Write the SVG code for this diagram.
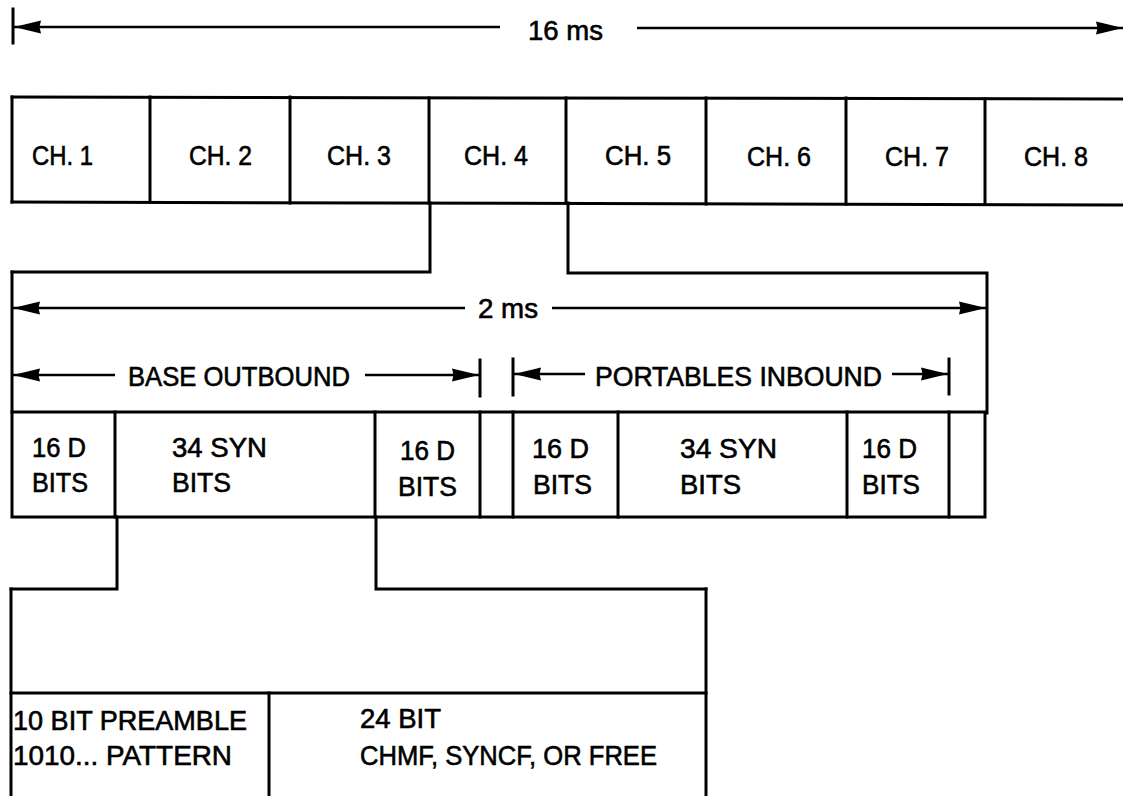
<svg xmlns="http://www.w3.org/2000/svg" width="1123" height="796" viewBox="0 0 1123 796">
<style>
  .ln{stroke:#000;stroke-width:3;fill:none;stroke-linecap:square}
  .ar{stroke:#000;stroke-width:2.5;fill:none}
  .t{font-family:"Liberation Sans",Arial,Helvetica,sans-serif;font-size:27px;fill:#000;stroke:#000;stroke-width:0.6}
</style>
<defs>
  <marker id="ah" viewBox="0 0 27 14" refX="27" refY="7" markerWidth="27" markerHeight="14" markerUnits="userSpaceOnUse" orient="auto-start-reverse">
    <path d="M0,0.5 L27,7 L0,13.5 L1.5,7 z" fill="#000"/>
  </marker>
</defs>
<rect width="1123" height="796" fill="#fff"/>

<g id="dim-16ms">
  <line class="ln" x1="13" y1="9" x2="13" y2="43"/>
  <line class="ar" x1="500" y1="27" x2="14" y2="27" marker-end="url(#ah)"/>
  <line class="ar" x1="637" y1="28" x2="1123" y2="28" marker-end="url(#ah)"/>
  <text class="t" x="528" y="40" textLength="75" lengthAdjust="spacingAndGlyphs">16 ms</text>
</g>

<g id="channel-frame">
  <line class="ln" x1="12" y1="97" x2="1123" y2="99"/>
  <line class="ln" x1="12" y1="202" x2="1123" y2="205"/>
  <line class="ln" x1="12" y1="97" x2="12" y2="202"/>
</g>
<g id="ch1"><text class="t" x="32" y="165" textLength="61" lengthAdjust="spacingAndGlyphs">CH. 1</text></g>
<g id="ch2"><line class="ln" x1="150" y1="97" x2="150" y2="202"/><text class="t" x="189" y="165" textLength="63" lengthAdjust="spacingAndGlyphs">CH. 2</text></g>
<g id="ch3"><line class="ln" x1="290" y1="97" x2="290" y2="203"/><text class="t" x="327" y="165" textLength="64" lengthAdjust="spacingAndGlyphs">CH. 3</text></g>
<g id="ch4"><line class="ln" x1="429" y1="98" x2="429" y2="203"/><text class="t" x="464" y="165" textLength="64" lengthAdjust="spacingAndGlyphs">CH. 4</text></g>
<g id="ch5"><line class="ln" x1="566" y1="98" x2="566" y2="203"/><text class="t" x="605" y="165" textLength="66" lengthAdjust="spacingAndGlyphs">CH. 5</text></g>
<g id="ch6"><line class="ln" x1="706" y1="98" x2="706" y2="204"/><text class="t" x="747" y="166" textLength="64" lengthAdjust="spacingAndGlyphs">CH. 6</text></g>
<g id="ch7"><line class="ln" x1="846" y1="98" x2="846" y2="204"/><text class="t" x="885" y="166" textLength="64" lengthAdjust="spacingAndGlyphs">CH. 7</text></g>
<g id="ch8"><line class="ln" x1="985" y1="99" x2="985" y2="204"/><text class="t" x="1024" y="166" textLength="64" lengthAdjust="spacingAndGlyphs">CH. 8</text></g>

<g id="connectors">
  <path class="ln" d="M430,203 V272 H12"/>
  <path class="ln" d="M568,203 V273 H987 V413"/>
  <path class="ln" d="M117,517 V589 H11"/>
  <path class="ln" d="M376,517 V589 H706"/>
</g>

<g id="frame-2ms">
  <line class="ln" x1="12" y1="272" x2="12" y2="412"/>
  <line class="ar" x1="465" y1="308" x2="13" y2="308" marker-end="url(#ah)"/>
  <line class="ar" x1="552" y1="308" x2="986" y2="308" marker-end="url(#ah)"/>
  <text class="t" x="478" y="318" textLength="60" lengthAdjust="spacingAndGlyphs">2 ms</text>
</g>

<g id="base-outbound">
  <line class="ar" x1="115" y1="375" x2="13" y2="375" marker-end="url(#ah)"/>
  <line class="ar" x1="365" y1="375" x2="479" y2="375" marker-end="url(#ah)"/>
  <line class="ln" x1="480" y1="360" x2="480" y2="396"/>
  <text class="t" x="128" y="386" textLength="222" lengthAdjust="spacingAndGlyphs">BASE OUTBOUND</text>
</g>

<g id="portables-inbound">
  <line class="ln" x1="513" y1="359" x2="513" y2="395"/>
  <line class="ar" x1="585" y1="374" x2="514" y2="374" marker-end="url(#ah)"/>
  <line class="ar" x1="892" y1="374" x2="948" y2="374" marker-end="url(#ah)"/>
  <line class="ln" x1="949" y1="359" x2="949" y2="394"/>
  <text class="t" x="595" y="386" textLength="287" lengthAdjust="spacingAndGlyphs">PORTABLES INBOUND</text>
</g>

<g id="bit-row">
  <rect class="ln" x="12" y="412" width="973" height="105"/>
</g>
<g id="base-d1">
  <text class="t" x="32" y="457" textLength="54" lengthAdjust="spacingAndGlyphs">16 D</text>
  <text class="t" x="32" y="492" textLength="56" lengthAdjust="spacingAndGlyphs">BITS</text>
</g>
<g id="base-syn">
  <line class="ln" x1="115" y1="412" x2="115" y2="517"/>
  <text class="t" x="172" y="457" textLength="95" lengthAdjust="spacingAndGlyphs">34 SYN</text>
  <text class="t" x="172" y="492" textLength="59" lengthAdjust="spacingAndGlyphs">BITS</text>
</g>
<g id="base-d2">
  <line class="ln" x1="375" y1="412" x2="375" y2="517"/>
  <text class="t" x="400" y="460" textLength="55" lengthAdjust="spacingAndGlyphs">16 D</text>
  <text class="t" x="398" y="496" textLength="59" lengthAdjust="spacingAndGlyphs">BITS</text>
</g>
<g id="base-guard">
  <line class="ln" x1="480" y1="412" x2="480" y2="517"/>
</g>
<g id="port-d1">
  <line class="ln" x1="513" y1="412" x2="513" y2="517"/>
  <text class="t" x="532" y="458" textLength="57" lengthAdjust="spacingAndGlyphs">16 D</text>
  <text class="t" x="533" y="494" textLength="59" lengthAdjust="spacingAndGlyphs">BITS</text>
</g>
<g id="port-syn">
  <line class="ln" x1="618" y1="412" x2="618" y2="517"/>
  <text class="t" x="680" y="458" textLength="97" lengthAdjust="spacingAndGlyphs">34 SYN</text>
  <text class="t" x="680" y="494" textLength="61" lengthAdjust="spacingAndGlyphs">BITS</text>
</g>
<g id="port-d2">
  <line class="ln" x1="847" y1="412" x2="847" y2="517"/>
  <text class="t" x="862" y="458" textLength="55" lengthAdjust="spacingAndGlyphs">16 D</text>
  <text class="t" x="862" y="494" textLength="58" lengthAdjust="spacingAndGlyphs">BITS</text>
</g>
<g id="port-guard">
  <line class="ln" x1="949" y1="412" x2="949" y2="517"/>
</g>

<g id="d-field">
  <line class="ln" x1="11" y1="589" x2="11" y2="796"/>
  <line class="ln" x1="706" y1="589" x2="706" y2="796"/>
  <line class="ln" x1="11" y1="693" x2="706" y2="693"/>
</g>
<g id="preamble">
  <text class="t" x="13" y="730" textLength="234" lengthAdjust="spacingAndGlyphs">10 BIT PREAMBLE</text>
  <text class="t" x="13" y="765" textLength="219" lengthAdjust="spacingAndGlyphs">1010... PATTERN</text>
</g>
<g id="payload">
  <line class="ln" x1="269" y1="693" x2="269" y2="796"/>
  <text class="t" x="360" y="728" textLength="81" lengthAdjust="spacingAndGlyphs">24 BIT</text>
  <text class="t" x="360" y="765" textLength="297" lengthAdjust="spacingAndGlyphs">CHMF, SYNCF, OR FREE</text>
</g>
</svg>
